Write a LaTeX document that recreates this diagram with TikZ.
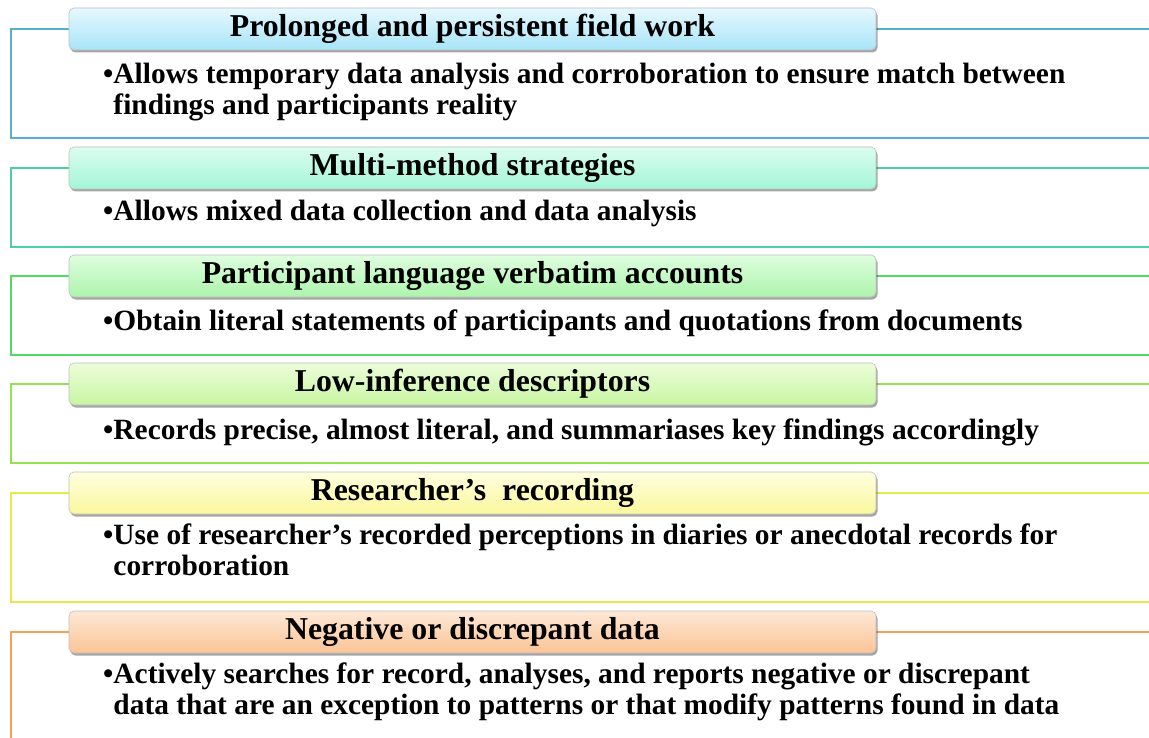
\documentclass[tikz,border=0pt]{standalone}
\usepackage{fontspec}
\setmainfont{Liberation Serif}
\usetikzlibrary{shadows}

% line colours of the six frames
\definecolor{lnA}{HTML}{55B0CA}
\definecolor{lnB}{HTML}{4CCFA2}
\definecolor{lnC}{HTML}{52DA66}
\definecolor{lnD}{HTML}{94E052}
\definecolor{lnE}{HTML}{E8E84C}
\definecolor{lnF}{HTML}{F8A052}
% header gradients (top / bottom)
\definecolor{hAt}{HTML}{E6F8FE}\definecolor{hAb}{HTML}{A8E4F8}
\definecolor{hBt}{HTML}{DCFCEF}\definecolor{hBb}{HTML}{A2F6D8}
\definecolor{hCt}{HTML}{DFFEDF}\definecolor{hCb}{HTML}{ACF4AC}
\definecolor{hDt}{HTML}{EDFDDA}\definecolor{hDb}{HTML}{C7F5A2}
\definecolor{hEt}{HTML}{FFFFDF}\definecolor{hEb}{HTML}{FAF79C}
\definecolor{hFt}{HTML}{FDE8D6}\definecolor{hFb}{HTML}{FBC496}

\begin{document}
\begin{tikzpicture}[x=1pt,y=-1pt,
  headbox/.style={rounded corners=5pt, minimum width=807pt, minimum height=42pt,
    inner sep=0pt, draw=black!25, line width=0.6pt,
    drop shadow={shadow xshift=1.5pt, shadow yshift=-2.5pt, opacity=0.35, fill=black},
    font=\fontsize{31.8}{31.8}\selectfont\bfseries},
  bodytext/.style={anchor=base west, align=left, inner sep=0pt,
    font=\fontsize{29.4}{31}\selectfont\bfseries},
  frameline/.style={line width=1.4pt}]
\useasboundingbox (0,0) rectangle (1149,738);
\clip (0,0) rectangle (1149,738);
\fill[white] (0,0) rectangle (1149,738);

% frames: top edge at header centre, open to the right
\draw[frameline, lnA] (1170,29)  -| (11,138) -- (1170,138);
\draw[frameline, lnB] (1170,168) -| (11,247) -- (1170,247);
\draw[frameline, lnC] (1170,276) -| (11,355) -- (1170,355);
\draw[frameline, lnD] (1170,384) -| (11,463) -- (1170,463);
\draw[frameline, lnE] (1170,493) -| (11,602) -- (1170,602);
\draw[frameline, lnF] (1170,632) -| (11,780) -- (1170,780);

% headers
\node[headbox, top color=hAt, bottom color=hAb] (h1) at (472.5,29)  {Prolonged and persistent field work};
\node[headbox, top color=hBt, bottom color=hBb] (h2) at (472.5,168) {Multi-method strategies};
\node[headbox, top color=hCt, bottom color=hCb] (h3) at (472.5,276) {Participant language verbatim accounts};
\node[headbox, top color=hDt, bottom color=hDb] (h4) at (472.5,384) {Low-inference descriptors};
\node[headbox, top color=hEt, bottom color=hEb] (h5) at (472.5,493) {Researcher’s\ \ recording};
\node[headbox, top color=hFt, bottom color=hFb] (h6) at (472.5,632) {Negative or discrepant data};

% bullet texts (base anchor sits on the last line)
\node[bodytext] (t1) at (103,115)
  {\textbullet Allows temporary data analysis and corroboration to ensure match between\\
   \phantom{\textbullet}findings and participants reality};
\node[bodytext] (t2) at (103,221)
  {\textbullet Allows mixed data collection and data analysis};
\node[bodytext] (t3) at (103,330)
  {\textbullet Obtain literal statements of participants and quotations from documents};
\node[bodytext] (t4) at (103,439)
  {\textbullet Records precise, almost literal, and summariases key findings accordingly};
\node[bodytext] (t5) at (103,575)
  {\textbullet Use of researcher’s recorded perceptions in diaries or anecdotal records for\\
   \phantom{\textbullet}corroboration};
\node[bodytext] (t6) at (103,714)
  {\textbullet Actively searches for record, analyses, and reports negative or discrepant\\
   \phantom{\textbullet}data that are an exception to patterns or that modify patterns found in data};
\end{tikzpicture}
\end{document}
